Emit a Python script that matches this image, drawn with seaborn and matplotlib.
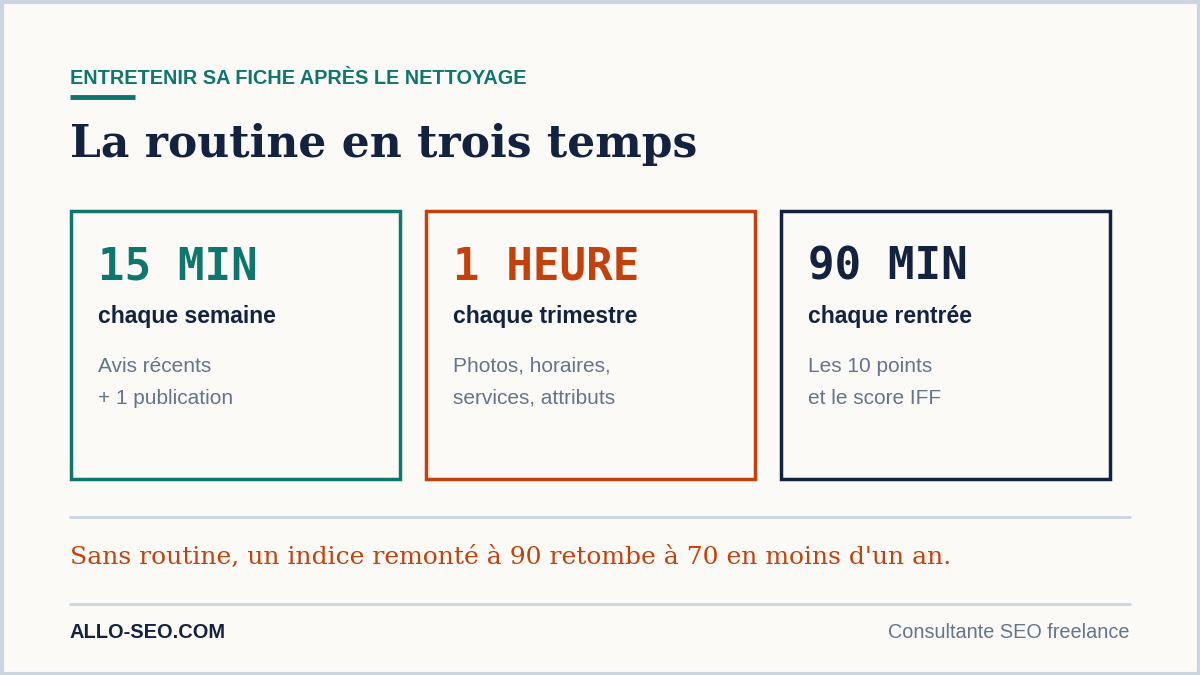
import matplotlib.pyplot as plt
import seaborn as sns
from matplotlib.patches import Rectangle

sns.set_theme(style='white')

BG = '#FBFAF6'
NAVY = '#13233F'
GRAY = '#64748B'
RULE = '#CBD5E1'

kicker = 'ENTRETENIR SA FICHE APRÈS LE NETTOYAGE'
title = 'La routine en trois temps'
durations = ['15 MIN', '1 HEURE', '90 MIN']
periods = ['chaque semaine', 'chaque trimestre', 'chaque rentrée']
details = [['Avis récents', '+ 1 publication'],
           ['Photos, horaires,', 'services, attributs'],
           ['Les 10 points', 'et le score IFF']]
card_colors = ['#0F766E', '#C2410C', NAVY]
note = "Sans routine, un indice remonté à 90 retombe à 70 en moins d'un an."
brand = 'ALLO-SEO.COM'
tagline = 'Consultante SEO freelance'

fig = plt.figure(figsize=(12, 6.75), dpi=100, facecolor=BG)
ax = fig.add_axes([0, 0, 1, 1])
ax.set_xlim(0, 1200)
ax.set_ylim(675, 0)
ax.axis('off')
ax.set_facecolor(BG)

# outer frame
ax.add_patch(Rectangle((1.5, 1.5), 1197, 672, fill=False, ec=RULE, lw=3))

ax.text(70, 78, kicker, fontsize=14.3, fontweight='bold', color='#0F766E',
        family='Liberation Sans', va='center')
ax.plot([70, 135], [97, 97], color='#0F766E', lw=3.5, solid_capstyle='butt')
ax.text(70, 145, title, fontsize=31.7, fontweight='bold', color=NAVY,
        family='DejaVu Serif', va='center')

for i, (d, p, det, c) in enumerate(zip(durations, periods, details, card_colors)):
    x0 = 71 + i * 355
    ax.add_patch(Rectangle((x0, 211), 329, 268, fill=False, ec=c, lw=2.5))
    ax.text(x0 + 27, 267, d, fontsize=31.8, fontweight='bold', color=c,
            family='DejaVu Sans Mono', va='center')
    ax.text(x0 + 27, 316, p, fontsize=16.5, fontweight='bold', color=NAVY,
            family='Liberation Sans', va='center')
    for j, line in enumerate(det):
        ax.text(x0 + 27, 366 + j * 32, line, fontsize=15, color=GRAY,
                family='Liberation Sans', va='center')

ax.plot([70, 1130], [517, 517], color=RULE, lw=2)
ax.text(70, 557, note, fontsize=18, color='#C2410C', family='DejaVu Serif', va='center')
ax.plot([70, 1130], [604, 604], color=RULE, lw=2)
ax.text(70, 632, brand, fontsize=14.4, fontweight='bold', color=NAVY,
        family='Liberation Sans', va='center')
ax.text(1130, 632, tagline, fontsize=14.3, color=GRAY, family='Liberation Sans',
        va='center', ha='right')

fig.savefig('out.png', dpi=100, facecolor=BG)
